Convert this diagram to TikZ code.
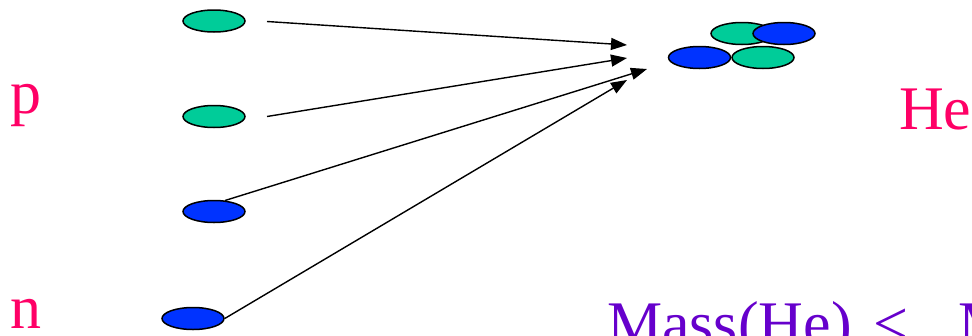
\documentclass[tikz,border=0pt]{standalone}
\usepackage{fontspec}
\setmainfont{Liberation Serif}
\usetikzlibrary{shapes.geometric,arrows.meta}
\definecolor{protgreen}{HTML}{00CC99}
\definecolor{neutblue}{HTML}{0033FF}
\definecolor{labelpink}{HTML}{FF0066}
\definecolor{labelpurple}{HTML}{6600CC}
\tikzset{
  nucleon/.style={ellipse, draw=black, line width=1.5pt, minimum width=62pt, minimum height=22pt, inner sep=0pt},
  proton/.style={nucleon, fill=protgreen},
  neutron/.style={nucleon, fill=neutblue},
  flow/.style={line width=1.4pt, -{Triangle[length=16pt,width=12pt]}},
  lbl/.style={anchor=base west, inner sep=0pt, font=\fontsize{62}{62}\selectfont},
}
\begin{document}
\begin{tikzpicture}[x=1pt,y=-1pt]
\useasboundingbox (0,0) rectangle (972,335);
\clip (0,0) rectangle (972,335);
% labels
\node[lbl, text=labelpink] (lp) at (10,113) {p};
\node[lbl, text=labelpink] (ln) at (10,328) {n};
\node[lbl, text=labelpink] (lhe) at (899,129) {He};
\node[lbl, text=labelpurple] (lmass) at (607,344) {Mass(He)\hspace{6pt} <\hspace{50pt}M};
% free nucleons
\node[proton] (p1) at (214,21) {};
\node[proton] (p2) at (214,116.5) {};
\node[neutron] (n1) at (214,211.5) {};
\node[neutron] (n2) at (193,318.5) {};
% helium nucleus
\node[proton] (h1) at (742,33.5) {};
\node[neutron] (h2) at (784,33.5) {};
\node[neutron] (h3) at (699.5,57.5) {};
\node[proton] (h4) at (763,57.5) {};
% arrow ends
\coordinate (s1) at (267,21.5);
\coordinate (s2) at (267,116.5);
\coordinate (s3) at (225,200.5);
\coordinate (t1) at (627,45);
\coordinate (t2) at (627,58);
\coordinate (t3) at (647,69);
\coordinate (t4) at (627,80);
\draw[flow] (s1) -- (t1);
\draw[flow] (s2) -- (t2);
\draw[flow] (s3) -- (t3);
\draw[flow] (n2.east) -- (t4);
\end{tikzpicture}
\end{document}
